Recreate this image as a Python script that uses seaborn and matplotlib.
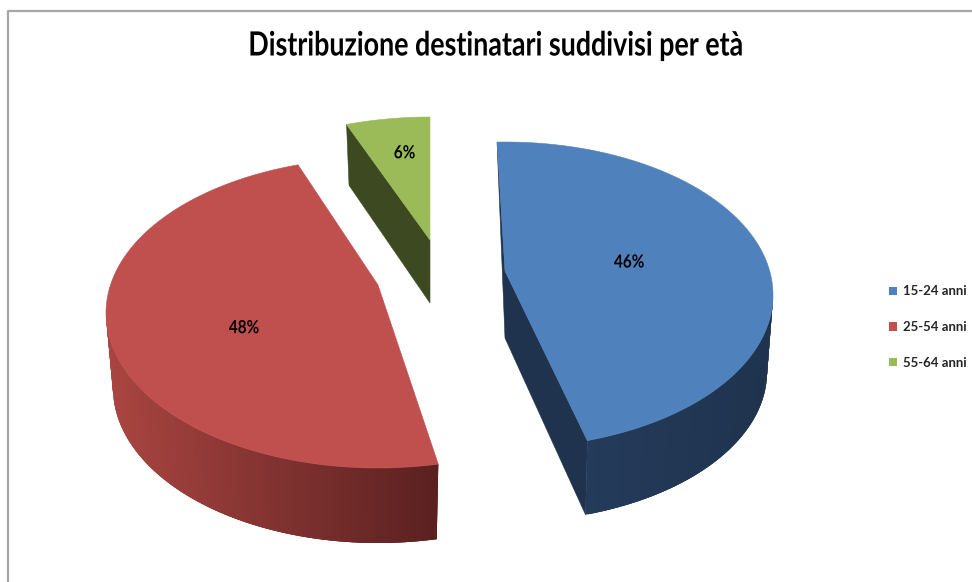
import numpy as np
import matplotlib
matplotlib.use('Agg')
import matplotlib.pyplot as plt
from matplotlib.patches import Patch, Polygon
from matplotlib.patheffects import AbstractPathEffect
from matplotlib.transforms import Affine2D
import seaborn as sns

title = 'Distribuzione destinatari suddivisi per età'
categories = ['15-24 anni', '25-54 anni', '55-64 anni']
percent = [46, 48, 6]

sns.set_theme(style='white')
plt.rcParams['font.family'] = ['Lato', 'DejaVu Sans']

top_colors = sns.color_palette(['#4f81bd', '#c0504d', '#9bbb59'])
cut_colors = ['#1f334e', None, '#3d4a21']
wall_ends = [('#243b5a', '#1f334e'), ('#aa4541', '#5a2120'), (None, None)]

# fake perspective: every slice has its own top and bottom ellipse (pixels)
# cx, cy, rx, ry top / cy, rx, ry bottom / apex y, apex y bottom
geom = [
    (505, 295, 268, 153, 372, 262, 150, 271, 338),
    (378, 313, 272, 155, 388, 265, 155, 285, None),
    (430, 270, 270, 153, 328, 262, 150, 240, 303),
]
# the drawn angles are not quite the true ones, 3d view squeezes them
angle_nudge = [(-1.7, -3.5), (1.6, 4.5), (3.6, 0.0)]
wall_range = [(90, None), (None, 272), None]
label_frac = [0.47, 0.51, 0.72]
label_shift = [(0, -8), (0, 8), (5, 0)]


class Squeeze(AbstractPathEffect):
    # no narrow font installed, so squeeze the glyphs sideways around x0
    def __init__(self, x0, sx):
        super().__init__()
        self.x0 = x0
        self.sx = sx

    def draw_path(self, renderer, gc, tpath, affine, rgbFace=None):
        squeeze = Affine2D().translate(-self.x0, 0).scale(self.sx, 1).translate(self.x0, 0)
        renderer.draw_path(gc, tpath, affine + squeeze, rgbFace)


def ellipse_pts(cx, cy, rx, ry, a0, a1, n=120):
    t = np.radians(np.linspace(a0, a1, n))
    return np.column_stack([cx + rx * np.sin(t), cy - ry * np.cos(t)])


fig, ax = plt.subplots(figsize=(9.72, 5.82), dpi=100)
fig.subplots_adjust(left=0, right=1, bottom=0, top=1)
ax.set_xlim(0, 972)
ax.set_ylim(582, 0)
ax.axis('off')

# chart frame, only left and top are in the crop
ax.plot([7.5, 7.5, 972], [582, 10.5, 10.5], color='#a6a6a6', lw=1.6, solid_capstyle='butt')

edges = np.cumsum([0] + percent) * 3.6
for i in range(len(percent)):
    cx, cy, rx, ry, cy2, rx2, ry2, ay, ay2 = geom[i]
    a0 = edges[i] + angle_nudge[i][0]
    a1 = edges[i + 1] + angle_nudge[i][1]

    # outer wall as thin strips, colour running along x, strips overlap to hide seams
    if wall_range[i] is not None:
        lo = wall_range[i][0] if wall_range[i][0] is not None else a0
        hi = wall_range[i][1] if wall_range[i][1] is not None else a1
        n = 160
        up = ellipse_pts(cx, cy, rx, ry, lo, hi, n)
        dn = ellipse_pts(cx, cy2, rx2, ry2, lo, hi, n)
        shades = sns.blend_palette(wall_ends[i], 256)
        xmin, xmax = up[:, 0].min(), up[:, 0].max()
        rising = up[0, 0] < up[-1, 0]
        order = range(n - 1) if rising else range(n - 2, -1, -1)
        for k in order:
            k1 = k if rising else max(k - 2, 0)
            k2 = min(k + 3, n - 1) if rising else k + 1
            c = shades[int(255 * (up[k, 0] - xmin) / (xmax - xmin))]
            ax.add_patch(Polygon([up[k1], up[k2], dn[k2], dn[k1]], closed=True,
                                 fc=c, ec='none', lw=0))

    # cut face of the slice
    if cut_colors[i] is not None:
        s_top = ellipse_pts(cx, cy, rx, ry, a0, a0, 1)[0]
        s_bot = ellipse_pts(cx, cy2, rx2, ry2, a0, a0, 1)[0]
        e_top = ellipse_pts(cx, cy, rx, ry, a1, a1, 1)[0]
        e_bot = ellipse_pts(cx, cy2, rx2, ry2, a1, a1, 1)[0]
        if i == 0:
            face = [s_top, (cx, ay2), e_bot, e_top, (cx, ay)]
        else:
            face = [s_top, (cx, ay), (cx, ay2), s_bot]
        ax.add_patch(Polygon(face, closed=True, fc=cut_colors[i], ec=cut_colors[i], lw=0.4))

    # top surface
    arc = ellipse_pts(cx, cy, rx, ry, a0, a1)
    ax.add_patch(Polygon(np.vstack([[(cx, ay)], arc]), closed=True,
                         fc=top_colors[i], ec=top_colors[i], lw=0.4))

    mid = np.radians((a0 + a1) / 2)
    lx = cx + label_frac[i] * rx * np.sin(mid) + label_shift[i][0]
    ly = ay + label_frac[i] * (cy - ry * np.cos(mid) - ay) + label_shift[i][1]
    ax.text(lx, ly, f'{percent[i]}%', ha='center', va='center', fontsize=13,
            fontweight='bold', color='black', path_effects=[Squeeze(lx, 0.85)])

ax.text(496, 46, title, ha='center', va='center', fontsize=24, fontweight='bold', color='black',
        path_effects=[Squeeze(496, 0.805)])

handles = [Patch(fc=c, ec='none') for c in top_colors]
leg = ax.legend(handles, categories, loc='center left', bbox_to_anchor=(889 / 972, 1 - 327 / 582),
                frameon=False, fontsize=9.5, handlelength=0.6, handleheight=0.6, handletextpad=0.45,
                labelspacing=1.79, borderpad=0, borderaxespad=0)
for t in leg.get_texts():
    t.set_fontweight('bold')

fig.savefig('out.png', dpi=100)
